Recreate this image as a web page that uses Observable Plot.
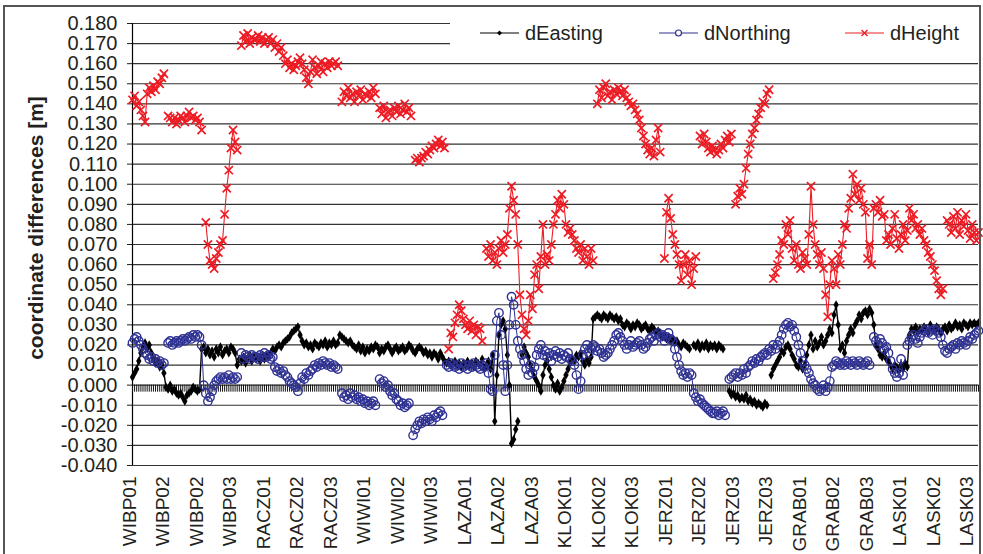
<!DOCTYPE html>
<html><head><meta charset="utf-8">
<script src="https://cdn.jsdelivr.net/npm/d3@7"></script>
<script src="https://cdn.jsdelivr.net/npm/@observablehq/plot@0.6"></script>
<style>
html,body{margin:0;padding:0;background:#fff;}
#wrap{position:relative;width:983px;height:554px;overflow:hidden;background:#fff;font-family:"Liberation Sans",Arial,sans-serif;}
#wrap svg{position:absolute;left:0;top:0;}
#frame{position:absolute;left:3px;top:5px;width:978px;height:600px;border:2px solid #555;box-sizing:border-box;pointer-events:none;z-index:2;}
</style></head><body><div id="wrap"><div id="frame"></div></div>
<script>
const xLabels = ["WIBP01","WIBP02","WIBP02","WIBP03","RACZ01","RACZ02","RACZ03","WIWI01","WIWI02","WIWI03","LAZA01","LAZA02","LAZA03","KLOK01","KLOK02","KLOK03","JERZ01","JERZ02","JERZ03","JERZ03","GRAB01","GRAB02","GRAB03","LASK01","LASK02","LASK03"];
const pointsPerLabel = 16;
const yTicks = [-0.04,-0.03,-0.02,-0.01,0,0.01,0.02,0.03,0.04,0.05,0.06,0.07,0.08,0.09,0.10,0.11,0.12,0.13,0.14,0.15,0.16,0.17,0.18];
const seriesNames = ["dEasting","dNorthing","dHeight"];

const dEasting = [
0.004,0.006,0.008,0.012,0.016,0.019,0.021,0.018,0.020,0.016,0.013,0.011,0.012,0.009,0.010,0.006,
-0.001,-0.002,0.000,-0.003,-0.002,-0.004,-0.005,-0.004,-0.006,-0.008,-0.005,-0.004,-0.003,-0.001,-0.002,-0.003,
-0.002,0.018,0.019,0.016,0.018,0.015,0.017,0.014,0.018,0.016,0.019,0.015,0.017,0.018,0.016,0.019,
0.018,0.016,0.010,0.013,0.012,0.014,0.011,0.013,0.015,0.012,0.014,0.013,0.014,0.012,0.014,0.013,0.015,
0.014,0.016,0.018,0.017,0.019,0.020,0.019,0.021,0.022,0.023,0.024,0.026,0.027,0.028,0.029,0.025,
0.022,0.020,0.021,0.019,0.020,0.018,0.021,0.020,0.019,0.021,0.020,0.022,0.019,0.021,0.020,0.022,
0.020,0.021,0.025,0.024,0.023,0.022,0.021,0.022,0.020,0.019,0.018,0.020,0.017,0.019,0.016,0.018,
0.017,0.019,0.018,0.020,0.019,0.016,0.018,0.017,0.019,0.020,0.018,0.016,0.018,0.019,0.017,0.018,
0.019,0.017,0.018,0.020,0.019,0.017,0.016,0.018,0.019,0.018,0.016,0.017,0.015,0.016,0.014,0.016,
0.015,0.013,0.016,0.014,0.012,0.011,0.012,0.010,0.011,0.012,0.010,0.011,0.009,0.011,0.010,0.012,
0.010,0.011,0.009,0.012,0.011,0.010,0.013,0.008,0.010,0.012,0.008,0.015,-0.018,0.005,0.025,0.030,0.032,
0.028,0.015,0.000,-0.029,-0.027,-0.022,-0.018,null,0.015,0.019,0.016,0.014,0.010,0.007,0.004,0.002,
0.000,-0.003,0.005,0.010,0.012,0.008,0.004,0.000,-0.002,0.001,-0.003,-0.001,0.002,0.005,0.008,0.011,
0.013,0.012,0.015,0.014,0.016,0.012,0.010,0.013,0.011,0.014,0.033,0.034,0.035,0.034,0.033,0.035,
0.034,0.033,0.035,0.034,0.033,0.034,0.032,0.033,0.030,0.029,0.031,0.030,0.028,0.030,0.029,0.031,
0.030,0.028,0.029,0.030,0.028,0.027,0.029,0.028,0.026,0.027,0.025,0.024,0.025,0.023,0.024,0.022,
0.023,0.021,0.022,0.020,0.019,0.021,0.020,0.019,0.018,null,0.020,0.019,0.021,0.018,0.020,0.019,
0.021,0.018,0.020,0.019,0.020,0.018,0.020,0.019,0.018,null,null,-0.003,-0.005,-0.004,-0.006,-0.005,-0.007,
-0.006,-0.007,-0.005,-0.008,-0.007,-0.009,-0.008,-0.010,-0.009,-0.010,-0.011,-0.009,-0.010,null,0.005,0.008,
0.010,0.012,0.014,0.017,0.016,0.019,0.020,0.018,0.015,0.013,0.010,0.009,0.012,0.008,0.010,0.015,
0.020,0.025,0.018,0.022,0.019,0.021,0.024,0.020,0.022,0.025,0.028,0.026,0.035,0.040,0.030,0.018,
0.020,0.016,0.022,0.025,0.028,0.026,0.030,0.032,0.035,0.033,0.036,0.037,0.035,0.038,0.036,0.030,
0.020,0.018,0.015,0.014,0.016,0.013,0.012,0.010,0.008,0.010,0.009,0.007,0.010,0.008,0.011,0.009,
0.025,0.028,0.027,0.029,0.026,0.028,0.027,0.029,0.028,0.026,0.030,0.028,0.027,0.029,0.028,0.026,
0.028,0.029,0.027,0.030,0.028,0.029,0.031,0.029,0.030,0.028,0.031,0.030,0.029,0.031,0.030,0.031,
0.030,0.031];

const dNorthing = [
0.021,0.023,0.024,0.022,0.020,0.018,0.016,0.015,0.013,0.014,0.012,0.013,0.011,0.012,0.010,0.011,
null,0.021,0.022,0.020,0.021,0.022,0.021,0.022,0.023,0.022,0.023,0.024,0.023,0.025,0.024,0.025,
0.024,0.020,0.000,-0.004,-0.008,-0.006,-0.003,0.000,0.002,0.003,0.004,0.003,0.004,0.003,0.005,0.003,
0.004,0.003,0.004,null,0.016,0.013,0.015,0.014,0.013,0.015,0.014,0.014,0.013,0.015,0.014,0.016,0.014,
0.015,0.013,0.014,0.009,0.007,0.008,0.006,0.007,0.005,0.004,0.002,0.001,0.000,-0.001,-0.003,0.001,
0.004,0.003,0.006,0.005,0.007,0.008,0.010,0.009,0.011,0.010,0.012,0.011,0.010,0.011,0.009,0.010,
0.009,0.008,null,-0.004,-0.006,-0.005,-0.007,-0.004,-0.006,-0.005,-0.007,-0.006,-0.008,-0.007,-0.009,-0.008,
-0.010,-0.009,-0.008,-0.010,null,0.003,0.001,0.002,-0.001,0.000,-0.003,-0.005,-0.004,-0.007,-0.008,-0.010,
-0.009,-0.011,-0.010,-0.009,null,-0.025,-0.022,-0.020,-0.018,-0.019,-0.017,-0.018,-0.016,-0.017,-0.018,-0.015,
-0.016,-0.014,-0.013,-0.015,null,0.010,0.009,0.011,0.010,0.009,0.010,0.008,0.011,0.009,0.010,0.008,
0.010,0.009,0.011,0.010,0.009,0.008,0.010,0.009,0.011,0.006,-0.002,-0.003,0.015,0.032,0.036,0.025,0.010,
-0.003,0.010,0.030,0.044,0.040,0.030,0.022,0.018,0.015,0.012,0.008,0.005,0.010,0.006,0.009,0.015,
0.018,0.020,0.015,0.017,0.014,0.016,0.012,0.015,0.017,0.014,0.016,0.013,0.015,0.014,0.016,0.013,
0.012,0.010,0.005,-0.002,0.002,0.015,0.018,0.020,0.016,0.018,0.020,0.019,0.017,0.018,0.016,0.014,
0.015,0.016,0.018,0.020,0.022,0.025,0.026,0.024,0.022,0.020,0.018,0.020,0.022,0.019,0.020,0.021,
0.022,0.020,0.018,0.019,0.021,0.023,0.024,0.022,0.025,0.026,0.024,0.025,0.022,0.024,0.026,0.023,
0.022,0.018,0.014,0.010,0.007,0.005,0.006,0.004,0.006,0.005,-0.004,-0.006,-0.008,-0.007,-0.009,-0.010,
-0.011,-0.012,-0.013,-0.014,-0.014,-0.013,-0.015,-0.014,-0.013,-0.015,null,0.003,0.004,0.005,0.006,0.004,0.006,
0.005,0.008,0.006,0.009,0.010,0.012,0.011,0.013,0.012,0.014,0.015,0.016,0.015,0.018,0.017,0.020,
0.018,0.020,0.022,0.025,0.028,0.030,0.031,0.029,0.030,0.027,0.024,0.020,0.016,0.012,0.010,0.008,
0.006,0.003,0.001,0.000,-0.002,-0.003,-0.002,0.000,-0.003,-0.001,0.002,0.009,0.010,0.012,0.011,0.010,
0.011,0.010,0.012,0.011,0.010,0.012,0.011,0.010,0.012,0.011,0.010,0.011,0.012,0.010,null,0.024,
0.022,0.020,0.023,0.021,0.018,0.019,0.016,0.012,0.008,0.006,0.004,0.006,0.013,0.005,null,0.020,
0.022,0.024,0.025,0.023,0.021,0.024,0.026,0.027,0.028,0.026,0.027,0.025,0.028,0.027,0.026,0.024,
0.020,0.017,0.016,0.018,0.019,0.020,0.018,0.021,0.020,0.022,0.021,0.020,0.022,0.024,0.023,0.025,
0.026,0.027];

const dHeight = [
0.142,0.144,0.139,0.141,0.137,0.134,0.131,0.145,0.148,0.146,0.149,0.147,0.151,0.150,0.153,0.155,
null,0.134,0.133,0.131,0.133,0.130,0.132,0.134,0.133,0.131,0.134,0.136,0.133,0.134,0.132,0.133,
0.131,0.127,null,0.081,0.070,0.062,0.060,0.058,0.063,0.066,0.070,0.072,0.085,0.098,0.107,0.118,
0.127,0.121,0.117,null,0.169,0.174,0.171,0.175,0.170,0.173,0.172,0.172,0.174,0.171,0.173,0.170,0.172,
0.173,0.170,0.172,0.168,0.170,0.166,0.168,0.164,0.160,0.162,0.158,0.160,0.157,0.159,0.161,0.163,
0.160,0.157,0.153,0.150,0.156,0.162,0.158,0.155,0.159,0.161,0.156,0.160,0.158,0.161,0.159,0.160,
0.161,0.159,null,0.141,0.146,0.144,0.148,0.143,0.145,0.141,0.146,0.144,0.147,0.142,0.145,0.144,
0.146,0.143,0.148,0.145,null,0.138,0.135,0.139,0.133,0.136,0.137,0.134,0.138,0.136,0.139,0.135,
0.137,0.140,0.136,0.138,0.134,null,0.112,0.113,0.111,0.113,0.114,0.116,0.115,0.117,0.119,0.118,
0.120,0.122,0.119,0.121,0.118,null,0.018,0.026,0.024,0.031,0.035,0.040,0.037,0.033,0.030,0.028,
0.032,0.027,0.030,0.025,0.029,0.028,0.022,null,0.068,0.064,0.070,0.062,0.066,0.060,0.068,0.072,0.066,
0.070,0.075,0.088,0.099,0.092,0.085,0.070,0.045,0.035,0.028,0.025,0.032,0.045,0.038,0.055,0.060,
0.048,0.064,0.080,0.060,0.065,0.062,0.070,0.080,0.085,0.092,0.088,0.095,0.090,0.080,0.076,0.078,
0.075,0.072,0.068,0.066,0.070,0.062,0.068,0.064,0.060,0.068,0.062,null,0.140,0.147,0.143,0.148,
0.150,0.144,0.146,0.142,0.147,0.145,0.148,0.146,0.144,0.147,0.143,0.141,0.139,0.140,0.137,0.135,
0.132,0.128,0.124,0.120,0.117,0.115,0.118,0.114,0.122,0.128,0.116,null,0.063,0.086,0.093,0.083,
0.075,0.070,0.065,0.060,0.052,0.060,0.065,0.055,0.062,0.050,0.058,0.064,null,0.124,0.120,0.125,
0.121,0.118,0.116,0.119,0.117,0.115,0.117,0.120,0.118,0.122,0.124,0.121,0.125,null,0.090,0.094,0.098,
0.095,0.100,0.108,0.115,0.120,0.125,0.128,0.132,0.135,0.138,0.141,0.140,0.145,0.147,null,0.053,
0.056,0.060,0.065,0.072,0.070,0.080,0.075,0.082,0.068,0.062,0.070,0.060,0.058,0.066,0.063,0.060,
0.075,0.099,0.080,0.070,0.065,0.060,0.066,0.058,0.045,0.034,0.050,0.062,0.058,0.050,0.065,0.060,
0.070,0.080,0.078,0.088,0.093,0.105,0.095,0.100,0.092,0.098,0.090,0.086,0.063,0.070,0.060,0.088,
0.090,0.086,0.092,0.084,0.085,0.072,0.075,0.070,0.078,0.085,0.073,0.068,0.075,0.080,0.072,0.077,
0.088,0.082,0.085,0.078,0.080,0.075,0.078,0.072,0.070,0.066,0.064,0.060,0.057,0.052,0.048,0.045,
0.048,null,0.082,0.080,0.076,0.084,0.078,0.086,0.075,0.082,0.079,0.085,0.077,0.073,0.080,0.076,
0.072,0.076];

const colors = {dEasting: "#000000", dNorthing: "#2e3192", dHeight: "#ed1c24"};
const idx = dEasting.map((_, i) => i);
const labelIdx = xLabels.map((_, j) => j * pointsPerLabel);
const val = arr => i => (arr[i] == null ? NaN : arr[i]);

const plot = Plot.plot({
  width: 983, height: 554,
  marginLeft: 132, marginRight: 5, marginTop: 23, marginBottom: 89,
  style: {fontFamily: "'Liberation Sans', Arial, sans-serif", fontSize: "20px", color: "#231f20", background: "transparent", overflow: "visible"},
  x: {domain: [0, idx.length - 1], axis: null},
  y: {domain: [-0.04, 0.18], ticks: yTicks, tickFormat: d => d.toFixed(3), tickSize: 5, tickPadding: 10, label: null},
  marks: [
    Plot.ruleY(yTicks, {stroke: "#333", strokeWidth: 1.2}),
    Plot.ruleX([0], {stroke: "#000", strokeWidth: 1.2}),
    Plot.ruleX(idx, {x: i => i, y1: () => 0, y2: () => -0.0035, stroke: "#111", strokeWidth: 1}),
    Plot.text(labelIdx, {x: i => i, y: () => -0.04, text: i => xLabels[Math.round(i / pointsPerLabel)], rotate: -90, textAnchor: "end", lineAnchor: "middle", dx: -3, dy: 11, fontSize: 19, fill: "#231f20"}),
    Plot.line(idx, {x: i => i, y: val(dEasting), stroke: colors.dEasting, strokeWidth: 1.4}),
    Plot.dot(idx, {x: i => i, y: val(dEasting), symbol: "diamond", r: 2.8, fill: colors.dEasting, stroke: "none"}),
    Plot.line(idx, {x: i => i, y: val(dNorthing), stroke: colors.dNorthing, strokeWidth: 1}),
    Plot.dot(idx, {x: i => i, y: val(dNorthing), symbol: "circle", r: 4.2, fill: "none", stroke: colors.dNorthing, strokeWidth: 1.4}),
    Plot.line(idx, {x: i => i, y: val(dHeight), stroke: colors.dHeight, strokeWidth: 1.1}),
    Plot.dot(idx, {x: i => i, y: val(dHeight), symbol: "times", r: 3.8, stroke: colors.dHeight, strokeWidth: 1.7})
  ]
});
document.getElementById("wrap").appendChild(plot);

const svg = d3.select(plot);
svg.append("text")
  .attr("transform", "translate(43,228) rotate(-90)")
  .attr("text-anchor", "middle")
  .attr("font-weight", "bold")
  .attr("font-size", 21)
  .attr("fill", "#231f20")
  .text("coordinate differences [m]");

// legend
const lg = svg.append("g").attr("text-anchor", "start");
lg.append("rect").attr("x", 450).attr("y", 12).attr("width", 530).attr("height", 42).attr("fill", "#fff");
const entries = [
  {name: "dEasting", x0: 480},
  {name: "dNorthing", x0: 659},
  {name: "dHeight", x0: 845}
];
const ly = 33;
entries.forEach(e => {
  const c = colors[e.name];
  lg.append("line").attr("x1", e.x0).attr("x2", e.x0 + 39).attr("y1", ly).attr("y2", ly).attr("stroke", c).attr("stroke-width", 1);
  const mx = e.x0 + 19.5;
  if (e.name === "dEasting") {
    lg.append("path").attr("d", `M${mx},${ly-2.5}L${mx+2.5},${ly}L${mx},${ly+2.5}L${mx-2.5},${ly}Z`).attr("fill", c);
  } else if (e.name === "dNorthing") {
    lg.append("circle").attr("cx", mx).attr("cy", ly).attr("r", 3).attr("fill", "#fff").attr("stroke", c).attr("stroke-width", 1.2);
  } else {
    lg.append("path").attr("d", `M${mx-3},${ly-3}L${mx+3},${ly+3}M${mx-3},${ly+3}L${mx+3},${ly-3}`).attr("stroke", c).attr("stroke-width", 1.4);
  }
  lg.append("text").attr("x", e.x0 + 45).attr("y", ly).attr("dy", "0.35em").attr("text-anchor", "start").attr("font-size", 20).attr("fill", "#231f20").text(e.name);
});

if (dEasting.length !== dNorthing.length || dEasting.length !== dHeight.length || dEasting.length !== 405) {
  svg.append("text").attr("x", 500).attr("y", 300).attr("fill", "magenta").text(`len ${dEasting.length} ${dNorthing.length} ${dHeight.length}`);
}
</script>
</body></html>
